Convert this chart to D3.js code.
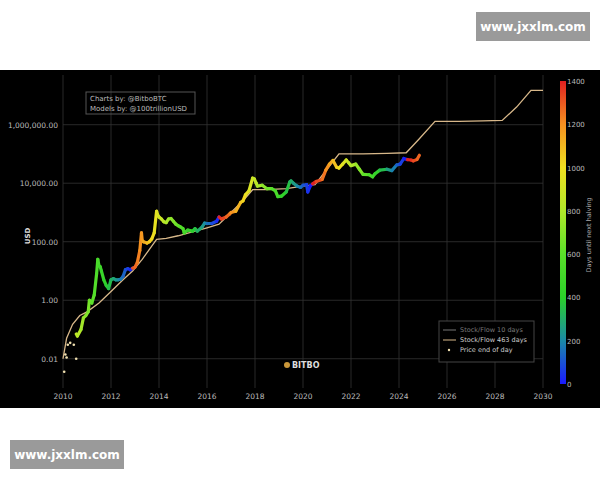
<!DOCTYPE html>
<html><head><meta charset="utf-8">
<script src="https://cdn.jsdelivr.net/npm/d3@7"></script>
<style>body{margin:0;background:#fff;font-family:"DejaVu Sans",sans-serif}</style>
</head><body><svg id="c" width="600" height="480"></svg>
<script>
const halvings=[2012.91,2016.52,2020.36,2024.30,2028.30];
const priceYears=[2010.55,2010.6,2010.75,2010.85,2010.95,2011.05,2011.1,2011.2,2011.3,2011.4,2011.45,2011.5,2011.55,2011.6,2011.7,2011.8,2011.9,2012.0,2012.1,2012.2,2012.3,2012.4,2012.5,2012.6,2012.7,2012.8,2012.9,2013.0,2013.1,2013.2,2013.27,2013.3,2013.35,2013.5,2013.6,2013.7,2013.8,2013.9,2013.95,2014.0,2014.1,2014.2,2014.3,2014.4,2014.5,2014.6,2014.7,2014.8,2014.9,2015.0,2015.05,2015.2,2015.4,2015.5,2015.6,2015.8,2015.9,2016.0,2016.2,2016.4,2016.5,2016.6,2016.8,2016.95,2017.0,2017.2,2017.4,2017.5,2017.6,2017.75,2017.9,2017.97,2018.05,2018.1,2018.3,2018.5,2018.7,2018.85,2018.95,2019.1,2019.3,2019.45,2019.5,2019.6,2019.75,2019.9,2020.0,2020.15,2020.2,2020.3,2020.4,2020.55,2020.8,2020.95,2021.1,2021.25,2021.4,2021.5,2021.65,2021.8,2021.9,2022.0,2022.2,2022.35,2022.5,2022.75,2022.9,2023.0,2023.2,2023.5,2023.7,2023.9,2024.05,2024.2,2024.35,2024.5,2024.6,2024.75,2024.85];
const priceValues=[0.07,0.06,0.1,0.25,0.3,0.4,1.0,0.8,1.5,8,25,15,14,10,5,3.2,2.5,5,5.5,5,5,5.2,6.5,11,12,11,12.5,13.5,20,50,200,110,100,90,100,125,200,1100,800,700,600,480,450,600,620,500,400,350,320,280,200,250,230,280,230,320,430,420,420,500,700,600,700,900,1000,1100,2200,2500,4000,5500,15000,14000,10000,8000,8500,6500,6500,5500,3500,3600,5000,11000,12000,10000,8000,7200,8500,9000,5000,8000,9500,11500,13500,28000,45000,60000,35000,33000,45000,62000,50000,40000,45000,30000,20000,19500,16500,21000,28000,30000,27000,42000,45000,70000,64000,62000,58000,65000,90000];
const earlyYears=[2010.05,2010.1,2010.15,2010.2,2010.3,2010.45,2010.55];
const earlyValues=[0.0036,0.014,0.011,0.03,0.035,0.03,0.01];
const s2fYears=[2010.0,2010.15,2010.4,2010.7,2011.0,2011.5,2012.0,2012.5,2012.9,2013.3,2013.9,2014.3,2014.8,2015.5,2016.0,2016.5,2017.0,2017.5,2017.9,2018.5,2019.3,2020.0,2020.5,2021.0,2021.5,2022.5,2023.5,2024.3,2024.8,2025.5,2026.5,2027.5,2028.3,2028.9,2029.5,2030.0];
const s2fValues=[0.01,0.05,0.15,0.3,0.4,0.8,2,5,10,25,120,130,160,230,300,400,1000,2500,6000,6000,6500,8000,9000,30000,100000,100000,105000,110000,300000,1300000,1300000,1350000,1400000,4000000,15000000,15000000];
const xTicks=[2010,2012,2014,2016,2018,2020,2022,2024,2026,2028,2030];
const yTicks=[0.01,1,100,10000,1000000];
const cTicks=[0,200,400,600,800,1000,1200,1400];

const svg=d3.select("#c");
svg.append("rect").attr("x",0).attr("y",70).attr("width",600).attr("height",338).attr("fill","#000");
const x=d3.scaleLinear().domain([2010,2030]).range([63,543]);
const y=d3.scaleLog().domain([0.001,5e7]).range([388,75]);
const cs=d3.scaleLinear().domain([0,200,400,600,800,1000,1200,1400]).range(["#1a1aff","#1a8aa8","#2ad02a","#5ae02a","#b0e82a","#f0e020","#f59020","#e02020"]);
const grid=svg.append("g").attr("stroke","#333").attr("stroke-width",0.8);
xTicks.forEach(t=>grid.append("line").attr("x1",x(t)).attr("x2",x(t)).attr("y1",75).attr("y2",388));
yTicks.forEach(t=>grid.append("line").attr("x1",63).attr("x2",543).attr("y1",y(t)).attr("y2",y(t)));
const fmt=d3.format(",.2f");
svg.append("g").selectAll("text").data(yTicks).join("text").attr("x",58).attr("y",d=>y(d)+3).attr("text-anchor","end").attr("fill","#bbb").attr("font-size",7.5).text(fmt);
svg.append("g").selectAll("text").data(xTicks).join("text").attr("x",d=>x(d)).attr("y",399).attr("text-anchor","middle").attr("fill","#bbb").attr("font-size",7.5).text(d=>d);
svg.append("text").attr("transform","translate(30,236) rotate(-90)").attr("text-anchor","middle").attr("fill","#ddd").attr("font-size",7).attr("font-weight","bold").text("USD");
const line=d3.line().x(d=>x(d[0])).y(d=>y(d[1]));
const s2f=s2fYears.map((v,i)=>[v,s2fValues[i]]);
svg.append("path").attr("d",line(s2f)).attr("fill","none").attr("stroke","#d8b88a").attr("stroke-width",1.3);
const pts=priceYears.map((v,i)=>[v,priceValues[i]]);
function daysTo(t){const h=halvings.find(h=>h>t);return Math.min(1400,(h-t)*365);}
for(let i=0;i<pts.length-1;i++){
 const a=pts[i],b=pts[i+1];
 svg.append("line").attr("x1",x(a[0])).attr("y1",y(a[1])).attr("x2",x(b[0])).attr("y2",y(b[1]))
 .attr("stroke",cs(daysTo((a[0]+b[0])/2))).attr("stroke-width",3.2).attr("stroke-linecap","round");
}
svg.append("g").selectAll("circle").data(earlyYears).join("circle").attr("cx",d=>x(d)).attr("cy",(d,i)=>y(earlyValues[i])).attr("r",1.3).attr("fill","#f0e0b0");
svg.append("rect").attr("x",86).attr("y",92).attr("width",109).attr("height",22).attr("fill","none").attr("stroke","#555");
svg.append("text").attr("x",90).attr("y",101).attr("fill","#bbb").attr("font-size",7).text("Charts by: @BitboBTC");
svg.append("text").attr("x",90).attr("y",111).attr("fill","#bbb").attr("font-size",7).text("Models by: @100trillionUSD");
svg.append("rect").attr("x",439).attr("y",321).attr("width",95).attr("height",41).attr("fill","#000").attr("stroke","#444");
svg.append("line").attr("x1",443).attr("x2",456).attr("y1",330).attr("y2",330).attr("stroke","#777");
svg.append("line").attr("x1",443).attr("x2",456).attr("y1",340).attr("y2",340).attr("stroke","#d8b88a");
svg.append("circle").attr("cx",449).attr("cy",350).attr("r",1.2).attr("fill","#f0e0b0");
[["Stock/Flow 10 days","#777",332],["Stock/Flow 463 days","#ccc",342],["Price end of day","#ccc",352]].forEach(d=>svg.append("text").attr("x",460).attr("y",d[2]).attr("fill",d[1]).attr("font-size",6.5).text(d[0]));
svg.append("circle").attr("cx",287).attr("cy",365).attr("r",3).attr("fill","#c9973a");
svg.append("text").attr("x",292).attr("y",368).attr("fill","#ddd").attr("font-size",8).attr("font-weight","bold").text("BITBO");
const cy=d3.scaleLinear().domain([0,1400]).range([384,81]);
const defs=svg.append("defs");const gr=defs.append("linearGradient").attr("id","g").attr("x1",0).attr("x2",0).attr("y1",1).attr("y2",0);
cs.domain().forEach(v=>gr.append("stop").attr("offset",v/1400).attr("stop-color",cs(v)));
svg.append("rect").attr("x",560).attr("y",81).attr("width",6).attr("height",303).attr("fill","url(#g)");
svg.append("g").selectAll("text").data(cTicks).join("text").attr("x",567).attr("y",d=>cy(d)+3).attr("fill","#bbb").attr("font-size",7).text(d=>d);
svg.append("text").attr("transform","translate(591,235) rotate(-90)").attr("text-anchor","middle").attr("fill","#aaa").attr("font-size",6.5).text("Days until next halving");
[[476,12],[10,440]].forEach(p=>{svg.append("rect").attr("x",p[0]).attr("y",p[1]).attr("width",114).attr("height",29).attr("fill","#9a9a9a");
svg.append("text").attr("x",p[0]+57).attr("y",p[1]+19).attr("text-anchor","middle").attr("fill","#fff").attr("font-size",12).attr("font-weight","bold").text("www.jxxlm.com");});
</script></body></html>
